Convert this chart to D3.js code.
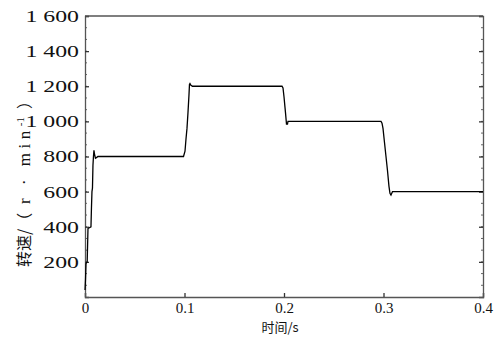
<!DOCTYPE html>
<html>
<head>
<meta charset="utf-8">
<script src="https://cdn.jsdelivr.net/npm/d3@7"></script>
<style>
  body { margin: 0; background: #fff; }
</style>
</head>
<body>
<div id="chart"></div>
<script>
// data: time (s) and speed (r/min)
var times = [0, 0.0005, 0.001, 0.0022, 0.003, 0.006, 0.0065, 0.007, 0.0075, 0.008, 0.0085, 0.009, 0.0095, 0.0105, 0.0118, 0.013,
  0.099, 0.1005, 0.1015, 0.1025, 0.1035, 0.1045, 0.105, 0.1055, 0.1065, 0.108,
  0.198, 0.199, 0.2, 0.201, 0.2015, 0.2025, 0.2035, 0.204,
  0.2975, 0.2985, 0.2995, 0.301, 0.3025, 0.304, 0.3055, 0.3065, 0.3075, 0.309, 0.4];
var speeds = [40, 100, 190, 200, 390, 400, 510, 600, 620, 750, 800, 835, 815, 790, 795, 800,
  800, 830, 900, 960, 1050, 1150, 1210, 1215, 1205, 1200,
  1200, 1190, 1140, 1080, 1050, 985, 985, 1000,
  1000, 990, 960, 880, 800, 720, 630, 590, 580, 600, 600];
var xTicks = [0, 0.1, 0.2, 0.3, 0.4];
var yTicks = [200, 400, 600, 800, 1000, 1200, 1400, 1600];

var margin = {top: 16, right: 16, bottom: 43, left: 85},
    width = 499 - margin.left - margin.right,
    height = 340 - margin.top - margin.bottom;

var svg = d3.select("#chart").append("svg")
    .attr("width", 499)
    .attr("height", 340)
  .append("g")
    .attr("transform", "translate(" + margin.left + "," + margin.top + ")");

var x = d3.scaleLinear().domain([0, 0.4]).range([0, width]);
var y = d3.scaleLinear().domain([0, 1600]).range([height, 0]);

var serif = "'Liberation Serif', 'DejaVu Serif', serif";
var cjk = "'Noto Sans CJK SC', sans-serif";
var fmtY = function(d) {
  var s = String(d);
  return s.length > 3 ? s.slice(0, s.length - 3) + " " + s.slice(-3) : s;
};

// minor ticks on left and right
var minor = d3.range(1, 24).map(function(i) { return i * 200 / 3; });
svg.selectAll(".minl").data(minor).enter().append("line")
    .attr("x1", 0).attr("x2", 2)
    .attr("y1", function(d) { return y(d); }).attr("y2", function(d) { return y(d); })
    .attr("stroke", "#666").attr("stroke-width", 1);
svg.selectAll(".minr").data(minor).enter().append("line")
    .attr("x1", width - 2).attr("x2", width)
    .attr("y1", function(d) { return y(d); }).attr("y2", function(d) { return y(d); })
    .attr("stroke", "#666").attr("stroke-width", 1);

// axes
var xAxis = svg.append("g")
    .attr("transform", "translate(0," + height + ")")
    .call(d3.axisBottom(x).tickValues(xTicks).tickSize(-4).tickPadding(5)
      .tickFormat(function(d) { return d === 0 ? "0" : d3.format(".1f")(d); }));
var yAxis = svg.append("g")
    .call(d3.axisLeft(y).tickValues(yTicks).tickSize(-4).tickFormat(fmtY));
svg.append("g")
    .attr("transform", "translate(" + width + ",0)")
    .call(d3.axisRight(y).tickValues(yTicks).tickSize(-4).tickFormat(""));

xAxis.attr("font-family", null);
yAxis.attr("font-family", null);
xAxis.selectAll("text")
    .style("font-family", serif).style("font-size", "15px").attr("fill", "#111");
// y labels are drawn wider in the source
yAxis.selectAll("text")
    .style("font-family", serif).style("font-size", "17px").attr("fill", "#111")
    .attr("x", 0)
    .attr("transform", "translate(-6,0) scale(1.4,1)");
svg.selectAll(".domain").attr("stroke", "#555").attr("stroke-width", 1.3);
svg.selectAll(".tick line").attr("stroke", "#333").attr("stroke-width", 1.3);

// frame top
svg.append("line")
    .attr("x1", 0).attr("x2", width).attr("y1", 0).attr("y2", 0)
    .attr("stroke", "#555").attr("stroke-width", 1.3);

// the speed curve
var line = d3.line()
    .x(function(d, i) { return x(times[i]); })
    .y(function(d) { return y(d); });
svg.append("path")
    .datum(speeds)
    .attr("d", line)
    .attr("fill", "none")
    .attr("stroke", "#000")
    .attr("stroke-width", 1.3);

// axis titles
svg.append("text")
    .attr("x", width / 2 - 4)
    .attr("y", height + 35)
    .attr("text-anchor", "middle")
    .style("font-family", cjk)
    .style("font-size", "13px")
    .attr("fill", "#111")
    .text("时间/s");

var yl = svg.append("text")
    .attr("transform", "translate(" + (-55) + "," + 251 + ") rotate(-90)")
    .attr("text-anchor", "start")
    .style("font-family", cjk)
    .style("font-size", "16px")
    .attr("fill", "#111");
yl.append("tspan").text("转速/（");
yl.append("tspan").style("font-family", serif).style("font-size", "17px")
    .style("letter-spacing", "4.5px").text(" r · min");
yl.append("tspan").attr("baseline-shift", "super").style("font-family", serif)
    .style("font-size", "11px").text("-1");
yl.append("tspan").attr("dx", 8).text("）");
</script>
</body>
</html>
